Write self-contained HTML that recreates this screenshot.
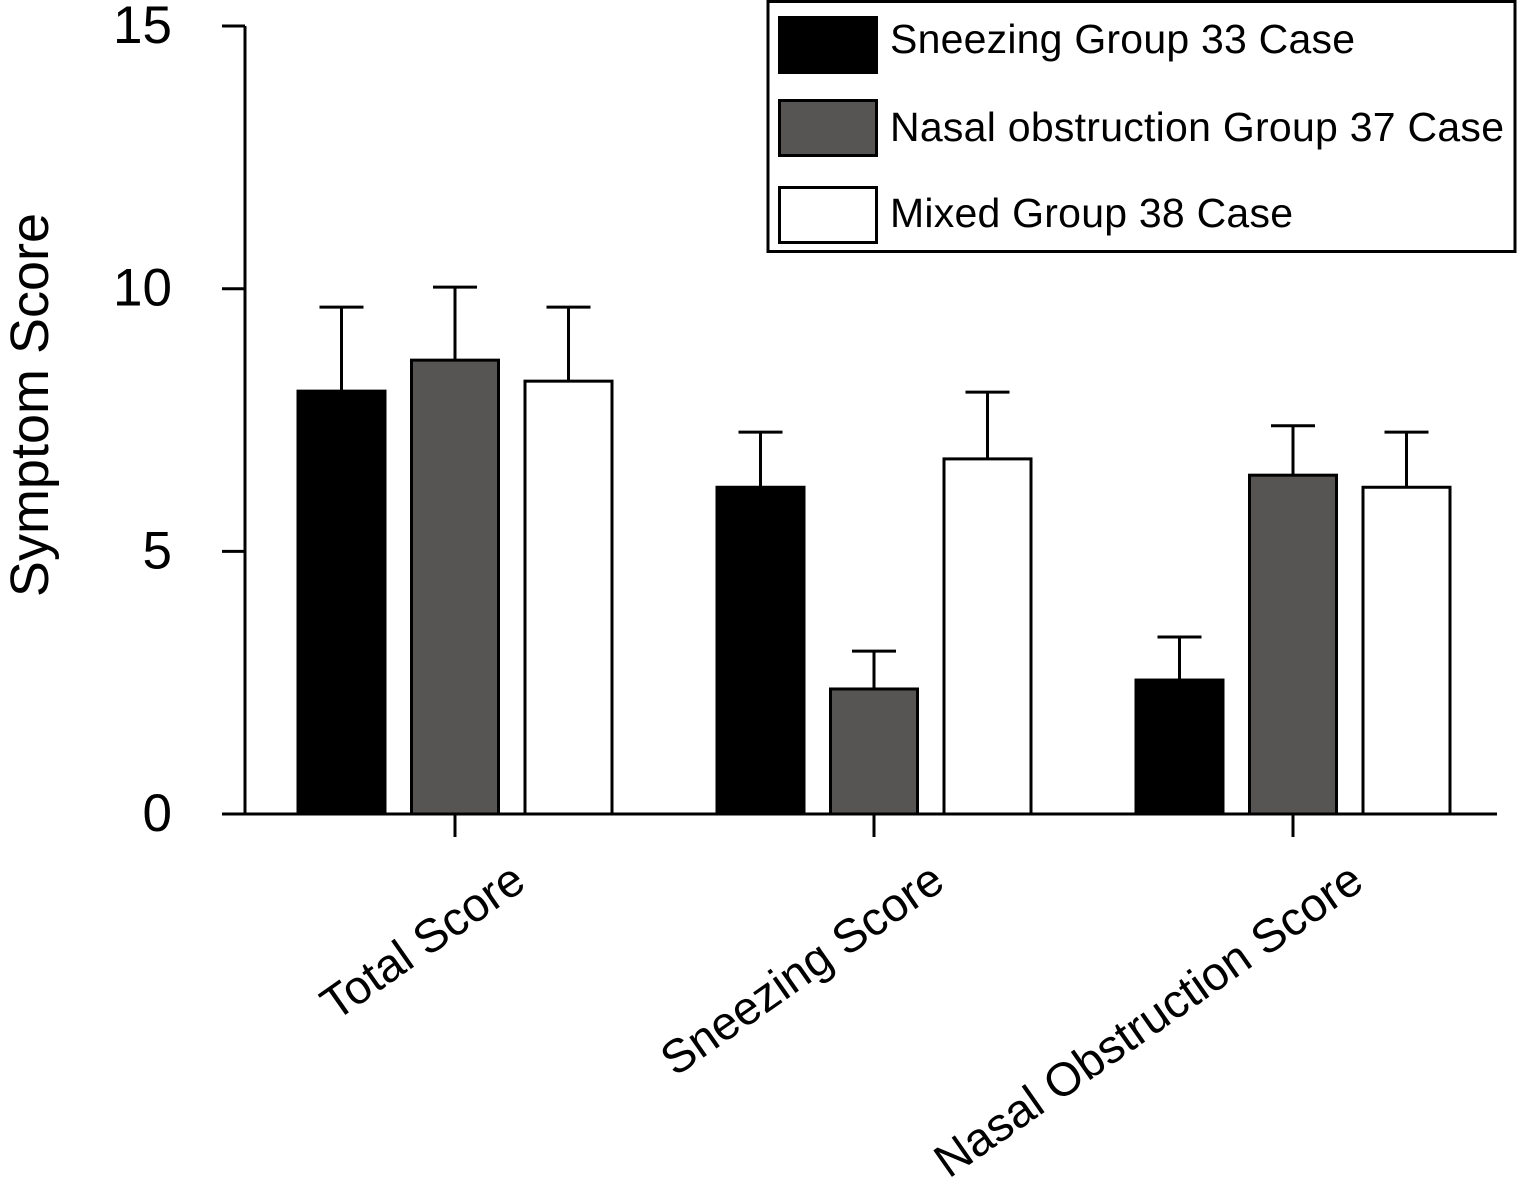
<!DOCTYPE html>
<html><head><meta charset="utf-8"><style>
body{margin:0;background:#fff}
svg{display:block;font-family:"Liberation Sans",Arial,sans-serif}
</style></head><body>
<svg id="chart" width="1520" height="1196" viewBox="0 0 1520 1196">
<g id="plot"></g>
<g>
<rect x="768" y="1.5" width="747" height="250" fill="#fff" stroke="#000" stroke-width="3"/>
<rect x="779.5" y="17.5" width="97" height="55" fill="#000" stroke="#000" stroke-width="3"/>
<text x="890" y="53" font-size="41" textLength="465">Sneezing Group 33 Case</text>
<rect x="779.5" y="100.5" width="97" height="55" fill="#575553" stroke="#000" stroke-width="3"/>
<text x="890" y="141" font-size="41" textLength="614">Nasal obstruction Group 37 Case</text>
<rect x="779.5" y="187.5" width="97" height="55" fill="#fff" stroke="#000" stroke-width="3"/>
<text x="890" y="227" font-size="41" textLength="403">Mixed Group 38 Case</text>
</g>
<text transform="translate(48,405) rotate(-90)" text-anchor="middle" font-size="54">Symptom Score</text>
</svg>
<script>
const categories=["Total Score","Sneezing Score","Nasal Obstruction Score"];
const seriesNames=["Sneezing Group 33 Case","Nasal obstruction Group 37 Case","Mixed Group 38 Case"];
const sneezingMeans=[8.05,6.22,2.55];
const sneezingErr=[1.6,1.05,0.82];
const nasalMeans=[8.64,2.38,6.45];
const nasalErr=[1.39,0.72,0.94];
const mixedMeans=[8.24,6.76,6.22];
const mixedErr=[1.41,1.27,1.05];
const yTicks=[0,5,10,15];

const NS="http://www.w3.org/2000/svg";
const g=document.getElementById('plot');
const y=v=>814-v*52.53;
const groupX=i=>455+i*419;
const colors=["#000","#575553","#fff"];
const series=[[sneezingMeans,sneezingErr],[nasalMeans,nasalErr],[mixedMeans,mixedErr]];
function mk(tag,attrs){const e=document.createElementNS(NS,tag);for(const k in attrs)e.setAttribute(k,attrs[k]);g.appendChild(e);return e;}
series.forEach((s,si)=>{
  categories.forEach((c,ci)=>{
    const cx=groupX(ci)+(si-1)*113.5;
    const top=y(s[0][ci]);const et=y(s[0][ci]+s[1][ci]);
    const l=mk('line',{x1:cx,x2:cx,y1:top,y2:et,stroke:'#000','stroke-width':3});
    
    
    const cap=mk('line',{x1:cx-22,x2:cx+22,y1:et,y2:et,stroke:'#000','stroke-width':3});
    
    
    const r=mk('rect',{x:cx-43.5,y:top,width:87,height:814-top,fill:colors[si],stroke:'#000','stroke-width':3});
    
    
  });
});
const ax=mk('line',{x1:245,x2:245,y1:26,y2:815,stroke:'#000','stroke-width':3});


const xax=mk('line',{x1:222,x2:1497,y1:814,y2:814,stroke:'#000','stroke-width':3});


yTicks.forEach(t=>{
  const l=mk('line',{x1:222,x2:245,y1:y(t),y2:y(t),stroke:'#000','stroke-width':3});
  
  
  const tx=mk('text',{x:172,y:y(t)+17,'text-anchor':'end','font-size':53});
  tx.textContent=t;
  
  
});
categories.forEach((c,ci)=>{
  const x=groupX(ci);
  const l=mk('line',{x1:x,x2:x,y1:814,y2:837,stroke:'#000','stroke-width':3});
  
  
  const tx=mk('text',{transform:`translate(${x+73},${887}) rotate(-35)`,'text-anchor':'end','font-size':47});
  tx.textContent=c;
  
  
});
</script>
</body></html>
